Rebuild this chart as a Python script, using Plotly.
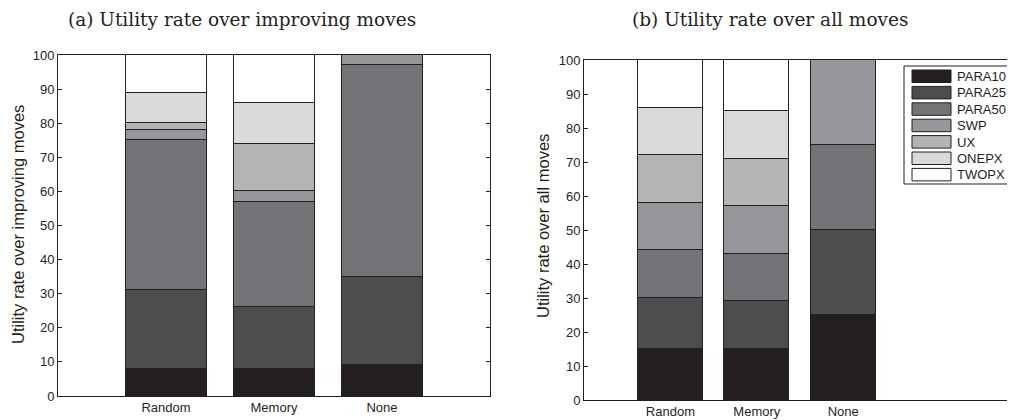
import plotly.graph_objects as go

categories = ["Random", "Memory", "None"]
series_names = ["PARA10", "PARA25", "PARA50", "SWP", "UX", "ONEPX", "TWOPX"]
colors = ["#231f20", "#4d4d4f", "#747478", "#96979a", "#b3b4b6", "#d9dadc", "#ffffff"]

# (a) Utility rate over improving moves (stacked, per category)
improving = {
    "PARA10": [8, 8, 9],
    "PARA25": [23, 18, 26],
    "PARA50": [44, 31, 62],
    "SWP":    [3, 3, 3],
    "UX":     [2, 14, 0],
    "ONEPX":  [9, 12, 0],
    "TWOPX":  [11, 14, 0],
}
# (b) Utility rate over all moves
all_moves = {
    "PARA10": [15, 15, 25],
    "PARA25": [15, 14, 25],
    "PARA50": [14, 14, 25],
    "SWP":    [14, 14, 25],
    "UX":     [14, 14, 0],
    "ONEPX":  [14, 14, 0],
    "TWOPX":  [14, 15, 0],
}
yticks = [0, 10, 20, 30, 40, 50, 60, 70, 80, 90, 100]
xpos = [1, 2, 3]

W, H = 1015, 420
OFF = 8  # page body margin offset
fig = go.Figure()

for data, xa, ya in [(improving, "x", "y"), (all_moves, "x2", "y2")]:
    for name, col in zip(series_names, colors):
        fig.add_trace(go.Bar(
            x=xpos, y=data[name], name=name, width=0.75,
            marker=dict(color=col, line=dict(color="#231f20", width=1)),
            xaxis=xa, yaxis=ya, showlegend=False,
        ))

tickfont = dict(family="Liberation Sans, Arial, sans-serif", size=13, color="#231f20")
axcommon = dict(showline=True, linecolor="#231f20", linewidth=1, mirror=True,
                showgrid=False, zeroline=False, tickfont=tickfont, automargin=False)

def px_x(p):
    return (p - OFF) / W

def px_y(p):
    return 1 - (p - OFF) / H

fig.update_layout(
    width=W, height=H, autosize=False,
    margin=dict(l=0, r=0, t=0, b=0, pad=0, autoexpand=False),
    paper_bgcolor="white", plot_bgcolor="white",
    barmode="stack",
    bargap=0,
    xaxis=dict(domain=[px_x(58), px_x(490)], range=[0, 4], tickvals=xpos,
               ticktext=categories, ticks="", anchor="y", ticklabelstandoff=-1, **axcommon),
    yaxis=dict(domain=[px_y(396), px_y(55)], range=[0, 100], tickvals=yticks,
               ticks="inside", ticklen=4, tickcolor="#231f20", anchor="x",
               **{**axcommon, "mirror": "ticks"}),
    xaxis2=dict(domain=[px_x(584), px_x(1016)], range=[0, 5],
                tickvals=xpos, ticktext=categories, ticks="", anchor="y2",
                ticklabelstandoff=-1, **axcommon),
    yaxis2=dict(domain=[px_y(400), px_y(60)], range=[0, 100], tickvals=yticks,
                ticks="inside", ticklen=4, tickcolor="#231f20", anchor="x2",
                **{**axcommon, "mirror": "ticks"}),
)

title_font = dict(family="DejaVu Serif, serif", size=18.5, color="#231f20")
annotations = [
    dict(text="(a) Utility rate over improving moves", x=px_x(242), y=px_y(19.5),
         xref="paper", yref="paper", xanchor="center", yanchor="middle", showarrow=False,
         font=title_font),
    dict(text="(b) Utility rate over all moves", x=px_x(770), y=px_y(19.5),
         xref="paper", yref="paper", xanchor="center", yanchor="middle", showarrow=False,
         font=title_font),
    dict(text="Utility rate over improving moves", x=px_x(18), y=px_y(225),
         xref="paper", yref="paper", xanchor="center", yanchor="middle",
         showarrow=False, textangle=-90,
         font=dict(family="Liberation Sans, Arial, sans-serif", size=16.5, color="#231f20")),
    dict(text="Utility rate over all moves", x=px_x(543), y=px_y(226),
         xref="paper", yref="paper", xanchor="center", yanchor="middle",
         showarrow=False, textangle=-90,
         font=dict(family="Liberation Sans, Arial, sans-serif", size=16.5, color="#231f20")),
]

# Custom legend (box, swatches, labels)
shapes = []
lx0, ly0, lx1, ly1 = 904, 66, 1009, 184
shapes.append(dict(type="rect", xref="paper", yref="paper",
                   x0=px_x(lx0), x1=px_x(lx1), y0=px_y(ly1), y1=px_y(ly0),
                   line=dict(color="#231f20", width=1), fillcolor="white", layer="above"))
pitch = 16.4
for i, (name, col) in enumerate(zip(series_names, colors)):
    top = 70 + i * pitch
    shapes.append(dict(type="rect", xref="paper", yref="paper",
                       x0=px_x(912), x1=px_x(951), y0=px_y(top + 12.5), y1=px_y(top),
                       line=dict(color="#231f20", width=1), fillcolor=col, layer="above"))
    annotations.append(dict(text=name, x=px_x(955), y=px_y(top + 6.5), xref="paper", yref="paper",
                            xanchor="left", yanchor="middle", showarrow=False,
                            font=dict(family="Liberation Sans, Arial, sans-serif", size=13, color="#231f20")))

fig.update_layout(annotations=annotations, shapes=shapes)
fig.write_html("out.html")
